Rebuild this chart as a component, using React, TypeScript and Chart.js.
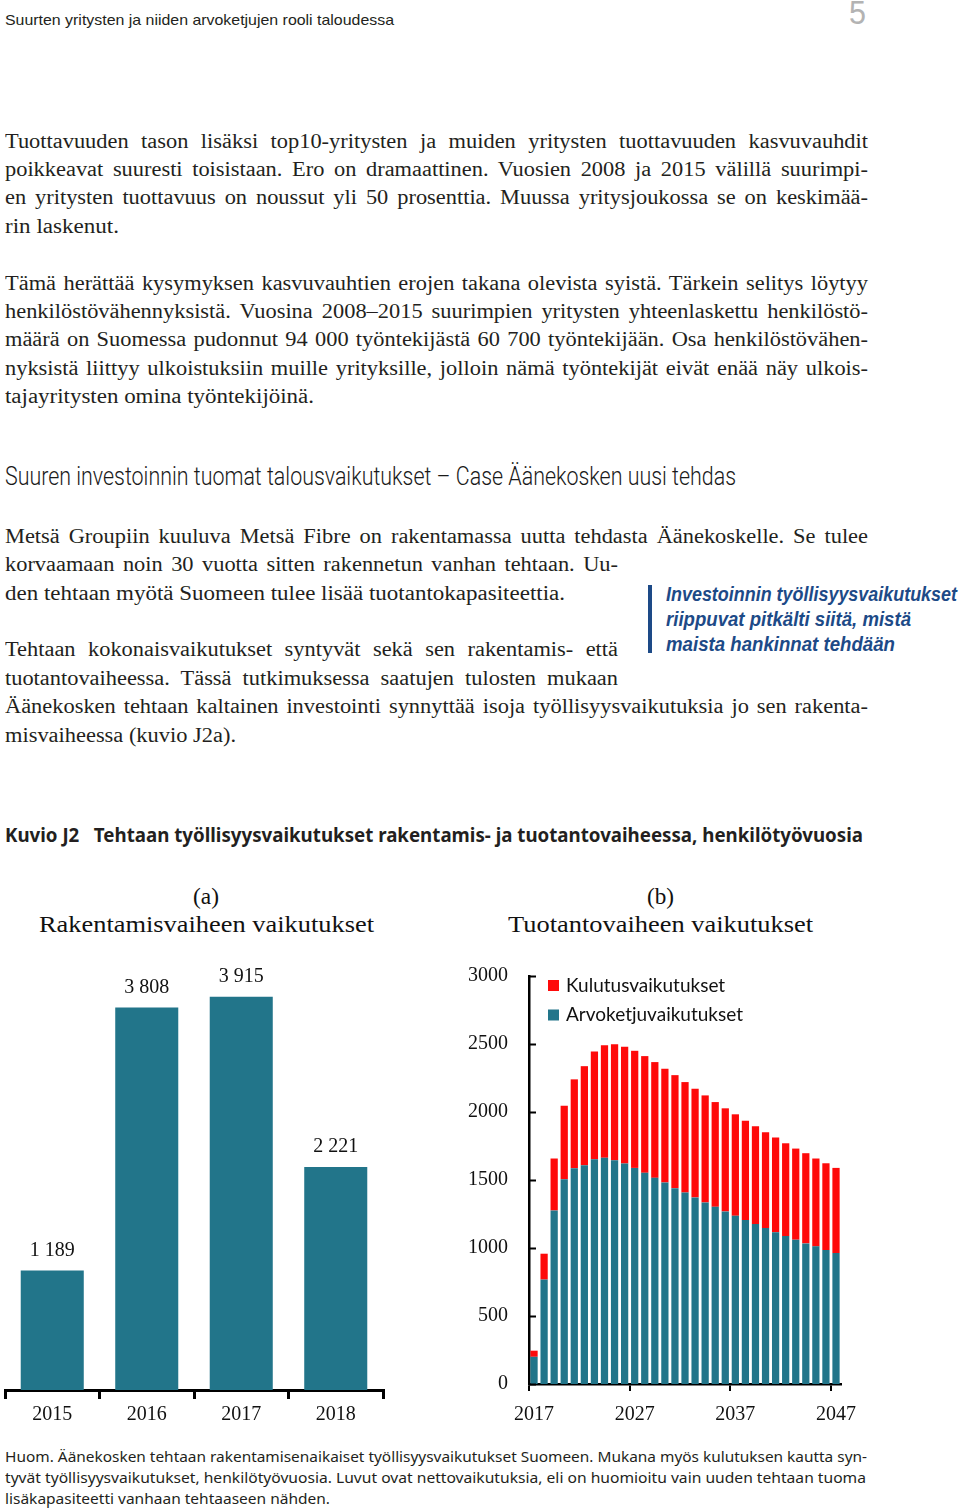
import React, { useEffect, useLayoutEffect, useRef } from 'react';
import { Chart, registerables } from 'chart.js';
Chart.register(...registerables);

// ---------- DATA ----------
const constructionYears = ['2015', '2016', '2017', '2018'];
const constructionJobs = [1189, 3808, 3915, 2221];

const productionYears = [
  '2017', '2018', '2019', '2020', '2021', '2022', '2023', '2024', '2025', '2026',
  '2027', '2028', '2029', '2030', '2031', '2032', '2033', '2034', '2035', '2036',
  '2037', '2038', '2039', '2040', '2041', '2042', '2043', '2044', '2045', '2046', '2047',
];
const valueChainEffects = [
  200, 768, 1276, 1506, 1587, 1609, 1653, 1663, 1645, 1621,
  1589, 1553, 1516, 1482, 1440, 1408, 1372, 1335, 1303, 1269,
  1237, 1205, 1176, 1147, 1115, 1088, 1061, 1034, 1012, 985, 963,
];
const consumptionEffects = [
  45, 190, 382, 540, 653, 728, 792, 828, 854, 858,
  861, 858, 851, 836, 831, 812, 799, 787, 770, 758,
  746, 731, 719, 704, 697, 682, 670, 663, 646, 638, 626,
];
const productionTickLabels = ['2017', '2027', '2037', '2047'];
const productionYMax = 3000;
const productionYStep = 500;
const constructionYMax = 4400;

const TEAL = '#22758a';
const RED = '#fe0a0a';

const SERIF = "'Liberation Serif', 'Times New Roman', serif";
const SANS = "'Liberation Sans', Arial, sans-serif";
const NOTO = "'Noto Sans', 'Open Sans', sans-serif";

// ---------- TEXT LINES ----------
type LineSpec = { t: string; x: number; y: number; w?: number; mode?: 'justify' | 'fit' | 'none'; size: number; family: string; weight?: number | string; italic?: boolean; color?: string };

const bodyText: LineSpec[] = [
  { t: 'Tuottavuuden tason lisäksi top10-yritysten ja muiden yritysten tuottavuuden kasvuvauhdit', y: 142, w: 863, mode: 'justify' },
  { t: 'poikkeavat suuresti toisistaan. Ero on dramaattinen. Vuosien 2008 ja 2015 välillä suurimpi-', y: 170, w: 863, mode: 'justify' },
  { t: 'en yritysten tuottavuus on noussut yli 50 prosenttia. Muussa yritysjoukossa se on keskimää-', y: 198, w: 863, mode: 'justify' },
  { t: 'rin laskenut.', y: 227, w: 114, mode: 'fit' },
  { t: 'Tämä herättää kysymyksen kasvuvauhtien erojen takana olevista syistä. Tärkein selitys löytyy', y: 284, w: 863, mode: 'justify' },
  { t: 'henkilöstövähennyksistä. Vuosina 2008–2015 suurimpien yritysten yhteenlaskettu henkilöstö-', y: 312, w: 863, mode: 'justify' },
  { t: 'määrä on Suomessa pudonnut 94 000 työntekijästä 60 700 työntekijään. Osa henkilöstövähen-', y: 340, w: 863, mode: 'justify' },
  { t: 'nyksistä liittyy ulkoistuksiin muille yrityksille, jolloin nämä työntekijät eivät enää näy ulkois-', y: 369, w: 863, mode: 'justify' },
  { t: 'tajayritysten omina työntekijöinä.', y: 397, w: 309, mode: 'fit' },
  { t: 'Metsä Groupiin kuuluva Metsä Fibre on rakentamassa uutta tehdasta Äänekoskelle. Se tulee', y: 537, w: 863, mode: 'justify' },
  { t: 'korvaamaan noin 30 vuotta sitten rakennetun vanhan tehtaan. Uu-', y: 565, w: 613, mode: 'justify' },
  { t: 'den tehtaan myötä Suomeen tulee lisää tuotantokapasiteettia.', y: 594, w: 560, mode: 'fit' },
  { t: 'Tehtaan kokonaisvaikutukset syntyvät sekä sen rakentamis- että', y: 650, w: 613, mode: 'justify' },
  { t: 'tuotantovaiheessa. Tässä tutkimuksessa saatujen tulosten mukaan', y: 679, w: 613, mode: 'justify' },
  { t: 'Äänekosken tehtaan kaltainen investointi synnyttää isoja työllisyysvaikutuksia jo sen rakenta-', y: 707, w: 863, mode: 'justify' },
  { t: 'misvaiheessa (kuvio J2a).', y: 736, w: 231, mode: 'fit' },
].map((l) => ({ ...l, x: 5, y: l.y + 1, size: 20, family: SERIF, color: '#231f20' })) as LineSpec[];

const otherText: LineSpec[] = [
  { t: 'Suurten yritysten ja niiden arvoketjujen rooli taloudessa', x: 5, y: 21, w: 389, mode: 'fit', size: 15, family: SANS, color: '#231f20' },
  { t: '5', x: 849, y: 15, w: 17, mode: 'fit', size: 34, family: SANS, color: '#b3b3b3' },
  { t: 'Suuren investoinnin tuomat talousvaikutukset – Case Äänekosken uusi tehdas', x: 5, y: 479, w: 731, mode: 'fit', size: 26, family: "Roboto, 'Liberation Sans', sans-serif", weight: 300, color: '#1a1a1a' },
  { t: 'Investoinnin työllisyysvaikutukset', x: 666, y: 595, w: 291, mode: 'fit', size: 21, family: SANS, weight: 700, italic: true, color: '#1d4a87' },
  { t: 'riippuvat pitkälti siitä, mistä', x: 666, y: 620, w: 245, mode: 'fit', size: 21, family: SANS, weight: 700, italic: true, color: '#1d4a87' },
  { t: 'maista hankinnat tehdään', x: 666, y: 645, w: 229, mode: 'fit', size: 21, family: SANS, weight: 700, italic: true, color: '#1d4a87' },
  { t: 'Kuvio J2   Tehtaan työllisyysvaikutukset rakentamis- ja tuotantovaiheessa, henkilötyövuosia', x: 5, y: 837, w: 858, mode: 'fit', size: 19, family: NOTO, weight: 700, color: '#231f20' },
  { t: '(a)', x: 193, y: 899, w: 26, mode: 'fit', size: 23, family: SERIF, color: '#111' },
  { t: 'Rakentamisvaiheen vaikutukset', x: 39, y: 927, w: 335, mode: 'fit', size: 23, family: SERIF, color: '#111' },
  { t: '(b)', x: 647, y: 899, w: 27, mode: 'fit', size: 23, family: SERIF, color: '#111' },
  { t: 'Tuotantovaiheen vaikutukset', x: 508, y: 927, w: 305, mode: 'fit', size: 23, family: SERIF, color: '#111' },
  { t: 'Huom. Äänekosken tehtaan rakentamisenaikaiset työllisyysvaikutukset Suomeen. Mukana myös kulutuksen kautta syn-', x: 5, y: 1457, w: 862, mode: 'fit', size: 15, family: NOTO, color: '#231f20' },
  { t: 'tyvät työllisyysvaikutukset, henkilötyövuosia. Luvut ovat nettovaikutuksia, eli on huomioitu vain uuden tehtaan tuoma', x: 5, y: 1478, w: 861, mode: 'fit', size: 15, family: NOTO, color: '#231f20' },
  { t: 'lisäkapasiteetti vanhaan tehtaaseen nähden.', x: 5, y: 1499, w: 325, mode: 'fit', size: 15, family: NOTO, color: '#231f20' },
];

const MAX_STRETCH = 1.12;

function TextLine({ spec }: { spec: LineSpec }) {
  const ref = useRef<HTMLSpanElement>(null);
  const lh = Math.round(spec.size * 1.2);
  useLayoutEffect(() => {
    const el = ref.current;
    if (!el) return;
    const apply = () => {
      el.style.transform = 'none';
      el.style.wordSpacing = 'normal';
      const nat = el.getBoundingClientRect().width;
      if (!spec.w || !nat) return;
      const spaces = (spec.t.match(/ /g) || []).length;
      if (spec.mode === 'justify' && spaces > 0) {
        const s = Math.min(spec.w / nat, MAX_STRETCH);
        const ws = (spec.w / s - nat) / spaces;
        el.style.transform = `scaleX(${s})`;
        if (ws > 0) el.style.wordSpacing = ws + 'px';
      } else if (spec.mode !== 'none') {
        el.style.transform = `scaleX(${spec.w / nat})`;
      }
    };
    apply();
    const f: any = (document as any).fonts;
    if (f && f.ready) f.ready.then(apply);
  }, [spec]);
  return (
    <span
      ref={ref}
      style={{
        position: 'absolute',
        left: spec.x,
        top: spec.y - lh / 2 - spec.size * 0.08,
        display: 'inline-block',
        whiteSpace: 'pre',
        lineHeight: lh + 'px',
        fontSize: spec.size,
        fontFamily: spec.family,
        fontWeight: spec.weight ?? 400,
        fontStyle: spec.italic ? 'italic' : 'normal',
        color: spec.color ?? '#000',
        transformOrigin: 'left center',
      }}
    >
      {spec.t}
    </span>
  );
}

// ---------- CHART (a) ----------
function fmtThousands(v: number) {
  return String(v).replace(/\B(?=(\d{3})+(?!\d))/g, ' ');
}

const valueLabelPlugin = {
  id: 'valueLabels',
  afterDatasetsDraw(chart: any) {
    const ctx = chart.ctx;
    const meta = chart.getDatasetMeta(0);
    const data = chart.data.datasets[0].data;
    ctx.save();
    ctx.font = `20px ${SERIF}`;
    ctx.fillStyle = '#111';
    ctx.textAlign = 'center';
    ctx.textBaseline = 'middle';
    meta.data.forEach((bar: any, i: number) => {
      ctx.fillText(fmtThousands(data[i]), bar.x, bar.y - 20);
    });
    ctx.restore();
  },
};

function ConstructionChart() {
  const ref = useRef<HTMLCanvasElement>(null);
  useEffect(() => {
    if (!ref.current) return;
    const chart = new Chart(ref.current, {
      type: 'bar',
      data: {
        labels: constructionYears,
        datasets: [
          {
            label: 'Rakentamisvaiheen vaikutukset',
            data: constructionJobs,
            backgroundColor: TEAL,
            borderWidth: 0,
            barPercentage: 0.667,
            categoryPercentage: 1,
          },
        ],
      },
      options: {
        animation: false,
        responsive: false,
        devicePixelRatio: 1,
        layout: { padding: { left: 5, right: 17, top: 8, bottom: 0 } },
        plugins: { legend: { display: false }, tooltip: { enabled: false } },
        scales: {
          y: { display: false, min: 0, max: constructionYMax },
          x: {
            afterFit: (s: any) => { s.height = 45; },
            border: { display: true, color: '#000', width: 3 },
            grid: { offset: true, drawOnChartArea: false, drawTicks: true, tickLength: 9, color: '#000', lineWidth: 3 },
            ticks: { color: '#111', font: { family: SERIF, size: 20 }, padding: 4, maxRotation: 0 },
          },
        },
      },
      plugins: [valueLabelPlugin],
    } as any);
    return () => chart.destroy();
  }, []);
  return <canvas ref={ref} width={400} height={495} style={{ position: 'absolute', left: 0, top: 940, width: 400, height: 495 }} />;
}

// ---------- CHART (b) ----------
const inwardTicksPlugin = {
  id: 'inwardTicks',
  afterDraw(chart: any) {
    const ctx = chart.ctx;
    const y = chart.scales.y;
    const left = chart.chartArea.left;
    ctx.save();
    ctx.strokeStyle = '#000';
    ctx.lineWidth = 2;
    y.ticks.forEach((t: any) => {
      const py = Math.round(y.getPixelForValue(t.value)) + 0.5;
      ctx.beginPath();
      ctx.moveTo(left, py);
      ctx.lineTo(left + 7, py);
      ctx.stroke();
    });
    ctx.restore();
  },
};

const innerLegendPlugin = {
  id: 'innerLegend',
  afterDraw(chart: any) {
    const ctx = chart.ctx;
    const x0 = chart.chartArea.left + 19;
    const y0 = chart.chartArea.top + 9;
    const ds = [...chart.data.datasets].reverse();
    ctx.save();
    ctx.font = `19px Lato, 'Open Sans', sans-serif`;
    ctx.textBaseline = 'middle';
    ds.forEach((d: any, i: number) => {
      const yy = y0 + i * 29.5;
      ctx.fillStyle = d.backgroundColor;
      ctx.fillRect(x0, yy - 5, 11, 11);
      ctx.fillStyle = '#111';
      ctx.fillText(d.label, x0 + 18, yy + 0.5);
    });
    ctx.restore();
  },
};

function ProductionChart() {
  const ref = useRef<HTMLCanvasElement>(null);
  useEffect(() => {
    if (!ref.current) return;
    const chart = new Chart(ref.current, {
      type: 'bar',
      data: {
        labels: productionYears,
        datasets: [
          {
            label: 'Arvoketjuvaikutukset',
            data: valueChainEffects,
            backgroundColor: TEAL,
            borderWidth: 0,
            barPercentage: 0.72,
            categoryPercentage: 1,
          },
          {
            label: 'Kulutusvaikutukset',
            data: consumptionEffects,
            backgroundColor: RED,
            borderWidth: 0,
            barPercentage: 0.72,
            categoryPercentage: 1,
          },
        ],
      },
      options: {
        animation: false,
        responsive: false,
        devicePixelRatio: 1,
        layout: { padding: { left: 0, right: 0, top: 15, bottom: 0 } },
        plugins: { legend: { display: false }, tooltip: { enabled: false } },
        scales: {
          y: {
            stacked: true,
            min: 0,
            max: productionYMax,
            afterFit: (s: any) => { s.width = 79; },
            border: { display: true, color: '#000', width: 2.5 },
            grid: { display: false, drawTicks: false },
            ticks: {
              stepSize: productionYStep,
              color: '#111',
              font: { family: SERIF, size: 20 },
              padding: 21,
              callback: (v: any) => String(v),
            },
          },
          x: {
            stacked: true,
            afterFit: (s: any) => { s.height = 56; },
            border: { display: true, color: '#000', width: 2.5 },
            grid: {
              offset: true,
              drawOnChartArea: false,
              drawTicks: true,
              tickLength: 7,
              lineWidth: 2,
              color: (c: any) => (c.index % 10 === 0 ? '#000' : 'rgba(0,0,0,0)'),
            },
            ticks: {
              autoSkip: false,
              maxRotation: 0,
              padding: 12,
              color: '#111',
              font: { family: SERIF, size: 20 },
              callback: (_v: any, i: number) =>
                productionTickLabels.includes(productionYears[i]) ? productionYears[i] : '',
            },
          },
        },
      },
      plugins: [inwardTicksPlugin, innerLegendPlugin],
    } as any);
    return () => chart.destroy();
  }, []);
  return <canvas ref={ref} width={418} height={497} style={{ position: 'absolute', left: 450, top: 943, width: 418, height: 497 }} />;
}

export default function App() {
  return (
    <div style={{ position: 'relative', width: 960, height: 1511, background: '#fff', overflow: 'hidden' }}>
      <style>{`html,body{margin:0;padding:0;background:#fff;}`}</style>
      {bodyText.map((l, i) => (
        <TextLine key={'b' + i} spec={l} />
      ))}
      {otherText.map((l, i) => (
        <TextLine key={'o' + i} spec={l} />
      ))}
      <div style={{ position: 'absolute', left: 648, top: 585, width: 4, height: 68, background: '#1d4a87' }} />
      <ConstructionChart />
      <ProductionChart />
    </div>
  );
}
